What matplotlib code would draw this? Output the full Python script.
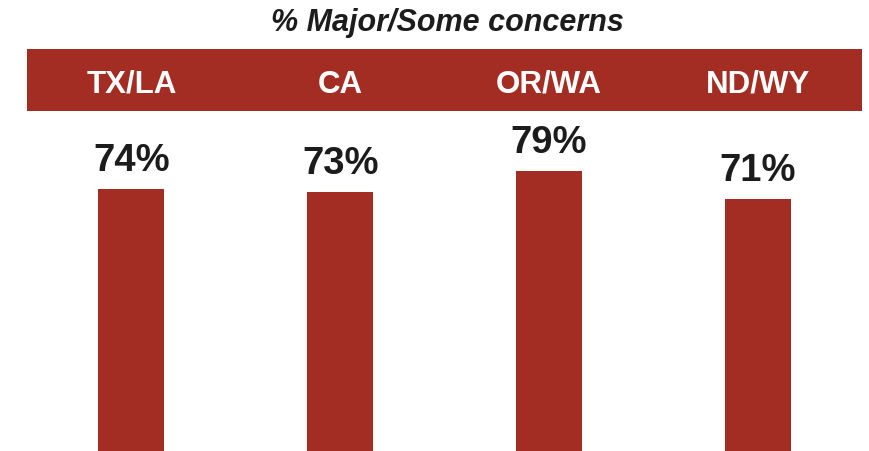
import matplotlib
matplotlib.use("Agg")
import matplotlib.pyplot as plt

regions = ["TX/LA", "CA", "OR/WA", "ND/WY"]
concern_pct = [74, 73, 79, 71]
title = "% Major/Some concerns"

red = "#A42D23"
ink = "#1c1c1c"
plt.rcParams["font.family"] = ["Liberation Sans", "DejaVu Sans"]

W, H = 869, 451
fig = plt.figure(figsize=(W / 100, H / 100), dpi=100)

x = list(range(len(regions)))

# bars
ax = fig.add_axes([27 / W, 0, (862 - 27) / W, (H - 120) / H])
ax.bar(x, concern_pct, width=0.316, color=red)
ax.set_xlim(-0.5, 3.5)
ax.set_ylim(0, 93.4)
ax.axis("off")
for xi, v in zip(x, concern_pct):
    ax.annotate(f"{v}%", (xi, v), xytext=(0, 13), textcoords="offset points",
                ha="center", va="baseline", fontsize=27.5, fontweight="bold",
                color=ink)

# header band with region names
band = fig.add_axes([27 / W, 1 - 111 / H, (862 - 27) / W, 62 / H])
band.set_facecolor(red)
band.set_xlim(-0.5, 3.5)
band.set_ylim(0, 62)
for s in band.spines.values():
    s.set_visible(False)
band.set_xticks([])
band.set_yticks([])
for xi, name in zip(x, regions):
    band.text(xi, 111 - 92.7, name, ha="center", va="baseline",
              fontsize=22.5, fontweight="bold", color="white")

fig.text(447 / W, 1 - 31 / H, title, ha="center", va="baseline",
         fontsize=22, fontweight="bold", fontstyle="italic", color=ink)

fig.savefig("out.png", dpi=100)
